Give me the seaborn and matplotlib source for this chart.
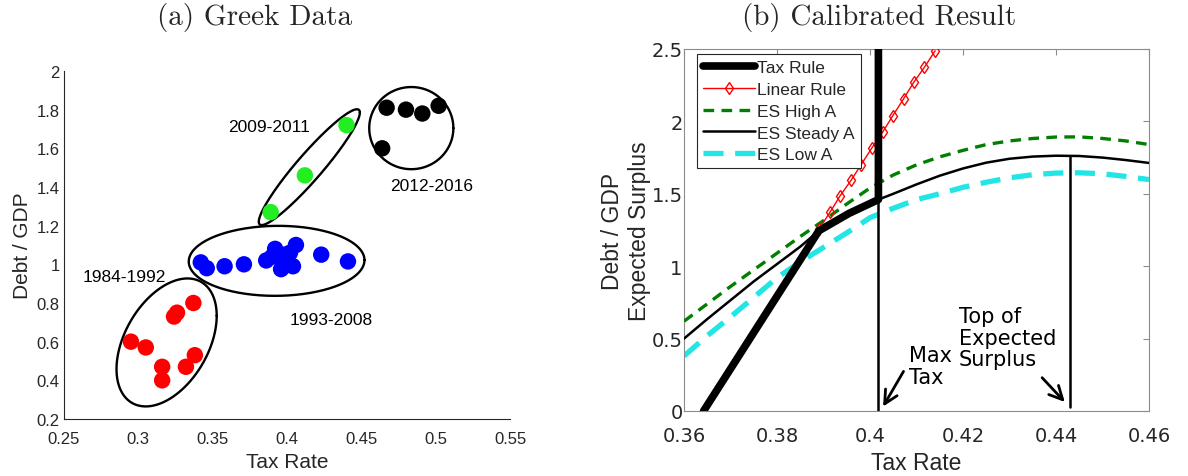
import numpy as np
import pandas as pd
import matplotlib
matplotlib.use("Agg")
import matplotlib.pyplot as plt
from matplotlib.ticker import FuncFormatter
import seaborn as sns

# ==================================================
# Data - panel (a) Greek data
# ==================================================
red_tax = [0.295, 0.305, 0.316, 0.316, 0.324, 0.326, 0.337, 0.332, 0.338]
red_debt = [0.60, 0.57, 0.47, 0.40, 0.73, 0.75, 0.80, 0.47, 0.53]

blue_tax = [0.342, 0.346, 0.358, 0.371, 0.386, 0.390, 0.392, 0.395, 0.396,
            0.398, 0.399, 0.402, 0.404, 0.406, 0.423, 0.441]
blue_debt = [1.01, 0.98, 0.99, 1.00, 1.02, 1.04, 1.08, 1.035, 0.975,
             1.05, 1.01, 1.06, 0.99, 1.10, 1.05, 1.015]

green_tax = [0.389, 0.412, 0.440]
green_debt = [1.27, 1.46, 1.72]

black_tax = [0.467, 0.480, 0.491, 0.502, 0.464]
black_debt = [1.81, 1.80, 1.78, 1.82, 1.60]

periods = ["1984-1992", "1993-2008", "2009-2011", "2012-2016"]
period_colors = ["#ff0000", "#0000ff", "#22ee22", "#000000"]

# ellipses: centre x, centre y, half width, half height, tilt phase
ell_cx = [0.319, 0.393, 0.415, 0.4836]
ell_cy = [0.596, 1.018, 1.5025, 1.7045]
ell_rx = [0.0337, 0.0591, 0.0340, 0.0283]
ell_ry = [0.331, 0.181, 0.2995, 0.2125]
ell_phi = [0.43, 0.02, 1.23, 0.0]

label_x = [0.2908, 0.430, 0.388, 0.497]
label_y = [0.936, 0.713, 1.713, 1.406]

# ==================================================
# Data - panel (b) calibrated result
# ==================================================
es_x = [0.36, 0.365, 0.37, 0.375, 0.38, 0.385, 0.39, 0.395, 0.40, 0.405,
        0.41, 0.415, 0.42, 0.425, 0.43, 0.435, 0.44, 0.445, 0.45, 0.455, 0.46]
es_high = [0.62, 0.74, 0.86, 0.975, 1.09, 1.205, 1.315, 1.43, 1.54, 1.63,
           1.70, 1.755, 1.80, 1.84, 1.865, 1.882, 1.892, 1.893, 1.882, 1.865, 1.84]
es_low = [0.38, 0.52, 0.65, 0.785, 0.92, 1.03, 1.13, 1.23, 1.335, 1.40,
          1.46, 1.50, 1.545, 1.58, 1.61, 1.632, 1.643, 1.645, 1.638, 1.62, 1.598]

steady_x = [0.36, 0.365, 0.37, 0.375, 0.38, 0.385, 0.389, 0.3955, 0.4018, 0.405,
            0.41, 0.415, 0.42, 0.425, 0.43, 0.435, 0.44, 0.445, 0.45, 0.455, 0.46]
steady_y = [0.50, 0.635, 0.765, 0.895, 1.015, 1.135, 1.245, 1.365, 1.46, 1.50,
            1.565, 1.625, 1.675, 1.715, 1.742, 1.757, 1.763, 1.761, 1.750, 1.733, 1.713]

rule_x = [0.3642, 0.389, 0.3955, 0.4018, 0.4018]
rule_y = [0.0, 1.245, 1.365, 1.46, 2.55]

linear_x = [0.3891, 0.3914, 0.3936, 0.3959, 0.3981, 0.4004, 0.4027, 0.4049,
            0.4072, 0.4094, 0.4117, 0.4140]
linear_y = [1.26, 1.373, 1.488, 1.592, 1.702, 1.817, 1.925, 2.040,
            2.155, 2.270, 2.374, 2.488]

max_tax_x = [0.4018, 0.4018]
max_tax_y = [1.46, 0.0]
top_es_x = [0.443, 0.443]
top_es_y = [1.763, 0.03]

# ==================================================
# Settings
# ==================================================
sns.set_theme(style="white", context="notebook")
plt.rcParams["font.family"] = ["Liberation Sans", "DejaVu Sans"]
tick_col = "#262626"

fig = plt.figure(figsize=(11.88, 4.77), dpi=100)
axL = fig.add_axes([0.0539, 0.1195, 0.3754, 0.7296])
axR = fig.add_axes([0.5758, 0.1363, 0.3914, 0.7589])

# ==================================================
# Panel (a)
# ==================================================
df = pd.DataFrame({
    "tax": red_tax + blue_tax + green_tax + black_tax,
    "debt": red_debt + blue_debt + green_debt + black_debt,
    "period": ([periods[0]] * len(red_tax) + [periods[1]] * len(blue_tax)
               + [periods[2]] * len(green_tax) + [periods[3]] * len(black_tax)),
})

sns.scatterplot(
    data=df, x="tax", y="debt", hue="period",
    palette=dict(zip(periods, period_colors)),
    s=140, edgecolor="none", legend=False, ax=axL, zorder=3
)

t = np.linspace(0, 2 * np.pi, 300)
for cx, cy, rx, ry, ph in zip(ell_cx, ell_cy, ell_rx, ell_ry, ell_phi):
    axL.plot(cx + rx * np.cos(t), cy + ry * np.sin(t + ph), color="black", lw=1.7)

for name, lx, ly in zip(periods, label_x, label_y):
    axL.text(lx, ly, name, ha="center", va="center", fontsize=12.5, color="black")

axL.set_xlim(0.25, 0.55)
axL.set_ylim(0.2, 2.0)
axL.set_xticks(np.arange(0.25, 0.551, 0.05))
axL.set_yticks(np.arange(0.2, 2.01, 0.2))
fmt = FuncFormatter(lambda v, p: f"{v:g}")
axL.xaxis.set_major_formatter(fmt)
axL.yaxis.set_major_formatter(fmt)
axL.tick_params(axis="both", direction="in", length=4, width=0.8, colors=tick_col,
                labelsize=12)
axL.tick_params(axis="x", pad=9)
axL.tick_params(axis="y", pad=3)
for side in ["top", "right"]:
    axL.spines[side].set_visible(False)
for side in ["left", "bottom"]:
    axL.spines[side].set_color(tick_col)
    axL.spines[side].set_linewidth(0.8)
axL.set_xlabel("Tax Rate", fontsize=15, color=tick_col)
axL.set_ylabel("Debt / GDP", fontsize=15, color=tick_col)
axL.xaxis.set_label_coords(0.5, -0.095)
axL.yaxis.set_label_coords(-0.072, 0.5)

# ==================================================
# Panel (b)
# ==================================================
sns.lineplot(x=rule_x, y=rule_y, sort=False, estimator=None, color="black",
             lw=5.5, label="Tax Rule", ax=axR, zorder=5)
sns.lineplot(x=linear_x, y=linear_y, sort=False, estimator=None, color="red",
             lw=1.0, marker="d", markersize=6, markerfacecolor="none",
             markeredgecolor="red", markeredgewidth=1.0, label="Linear Rule",
             ax=axR, zorder=4)
sns.lineplot(x=es_x, y=es_high, sort=False, estimator=None, color="#007f00",
             lw=2.4, label="ES High A", ax=axR, zorder=3)
sns.lineplot(x=steady_x, y=steady_y, sort=False, estimator=None, color="black",
             lw=1.8, label="ES Steady A", ax=axR, zorder=3)
sns.lineplot(x=es_x, y=es_low, sort=False, estimator=None, color="#22e5e5",
             lw=3.8, label="ES Low A", ax=axR, zorder=2)

lines = axR.get_lines()
lines[0].set_solid_capstyle("round")
lines[2].set_dashes([3.2, 2.2])
lines[4].set_dashes([3.8, 2.2])

axR.plot(max_tax_x, max_tax_y, color="black", lw=1.8, zorder=4)
axR.plot(top_es_x, top_es_y, color="black", lw=1.8, zorder=4)

axR.annotate("", xy=(0.4025, 0.014), xytext=(0.4075, 0.29),
             arrowprops=dict(arrowstyle="->", lw=2.0, color="black",
                             mutation_scale=24))
axR.annotate("", xy=(0.4423, 0.048), xytext=(0.4366, 0.244),
             arrowprops=dict(arrowstyle="->", lw=2.0, color="black",
                             mutation_scale=24))
axR.text(0.4084, 0.455, "Max\nTax", ha="left", va="top", fontsize=15,
         family="DejaVu Sans", linespacing=1.1, color="black")
axR.text(0.4191, 0.725, "Top of\nExpected\nSurplus", ha="left", va="top",
         fontsize=15, family="DejaVu Sans", linespacing=1.1, color="black")

leg = axR.legend(loc="upper left", bbox_to_anchor=(0.028, 0.986), borderaxespad=0,
                 fontsize=12.5, handlelength=3.0, handletextpad=0.1,
                 labelspacing=0.38, numpoints=1, fancybox=False, framealpha=1,
                 borderpad=0.35)
leg.get_frame().set_edgecolor(tick_col)
leg.get_frame().set_linewidth(0.8)

axR.set_xlim(0.36, 0.46)
axR.set_ylim(0, 2.5)
axR.set_xticks(np.arange(0.36, 0.461, 0.02))
axR.set_yticks(np.arange(0, 2.51, 0.5))
axR.xaxis.set_major_formatter(fmt)
axR.yaxis.set_major_formatter(fmt)
axR.tick_params(axis="both", direction="in", length=4, width=0.8, colors="#8c8c8c",
                labelcolor=tick_col, labelsize=14, top=True, right=True)
for lab in axR.get_xticklabels() + axR.get_yticklabels():
    lab.set_family("DejaVu Sans")
axR.tick_params(axis="x", pad=11)
axR.tick_params(axis="y", pad=1)
for side in axR.spines:
    axR.spines[side].set_visible(True)
    axR.spines[side].set_color("#8c8c8c")
    axR.spines[side].set_linewidth(0.8)
axR.set_xlabel("Tax Rate", fontsize=16.5, color=tick_col)
axR.set_ylabel("Debt / GDP\nExpected Surplus", fontsize=16.5, color=tick_col)
axR.xaxis.set_label_coords(0.5, -0.11)
axR.yaxis.set_label_coords(-0.072, 0.5)

# ==================================================
# Titles
# ==================================================
fig.text(255 / 1188, 1 - 18 / 477, "(a) Greek Data", ha="center", va="center",
         family="cmr10", fontsize=21)
fig.text(879 / 1188, 1 - 18 / 477, "(b) Calibrated Result", ha="center",
         va="center", family="cmr10", fontsize=21)

fig.savefig("out.png", dpi=100)
